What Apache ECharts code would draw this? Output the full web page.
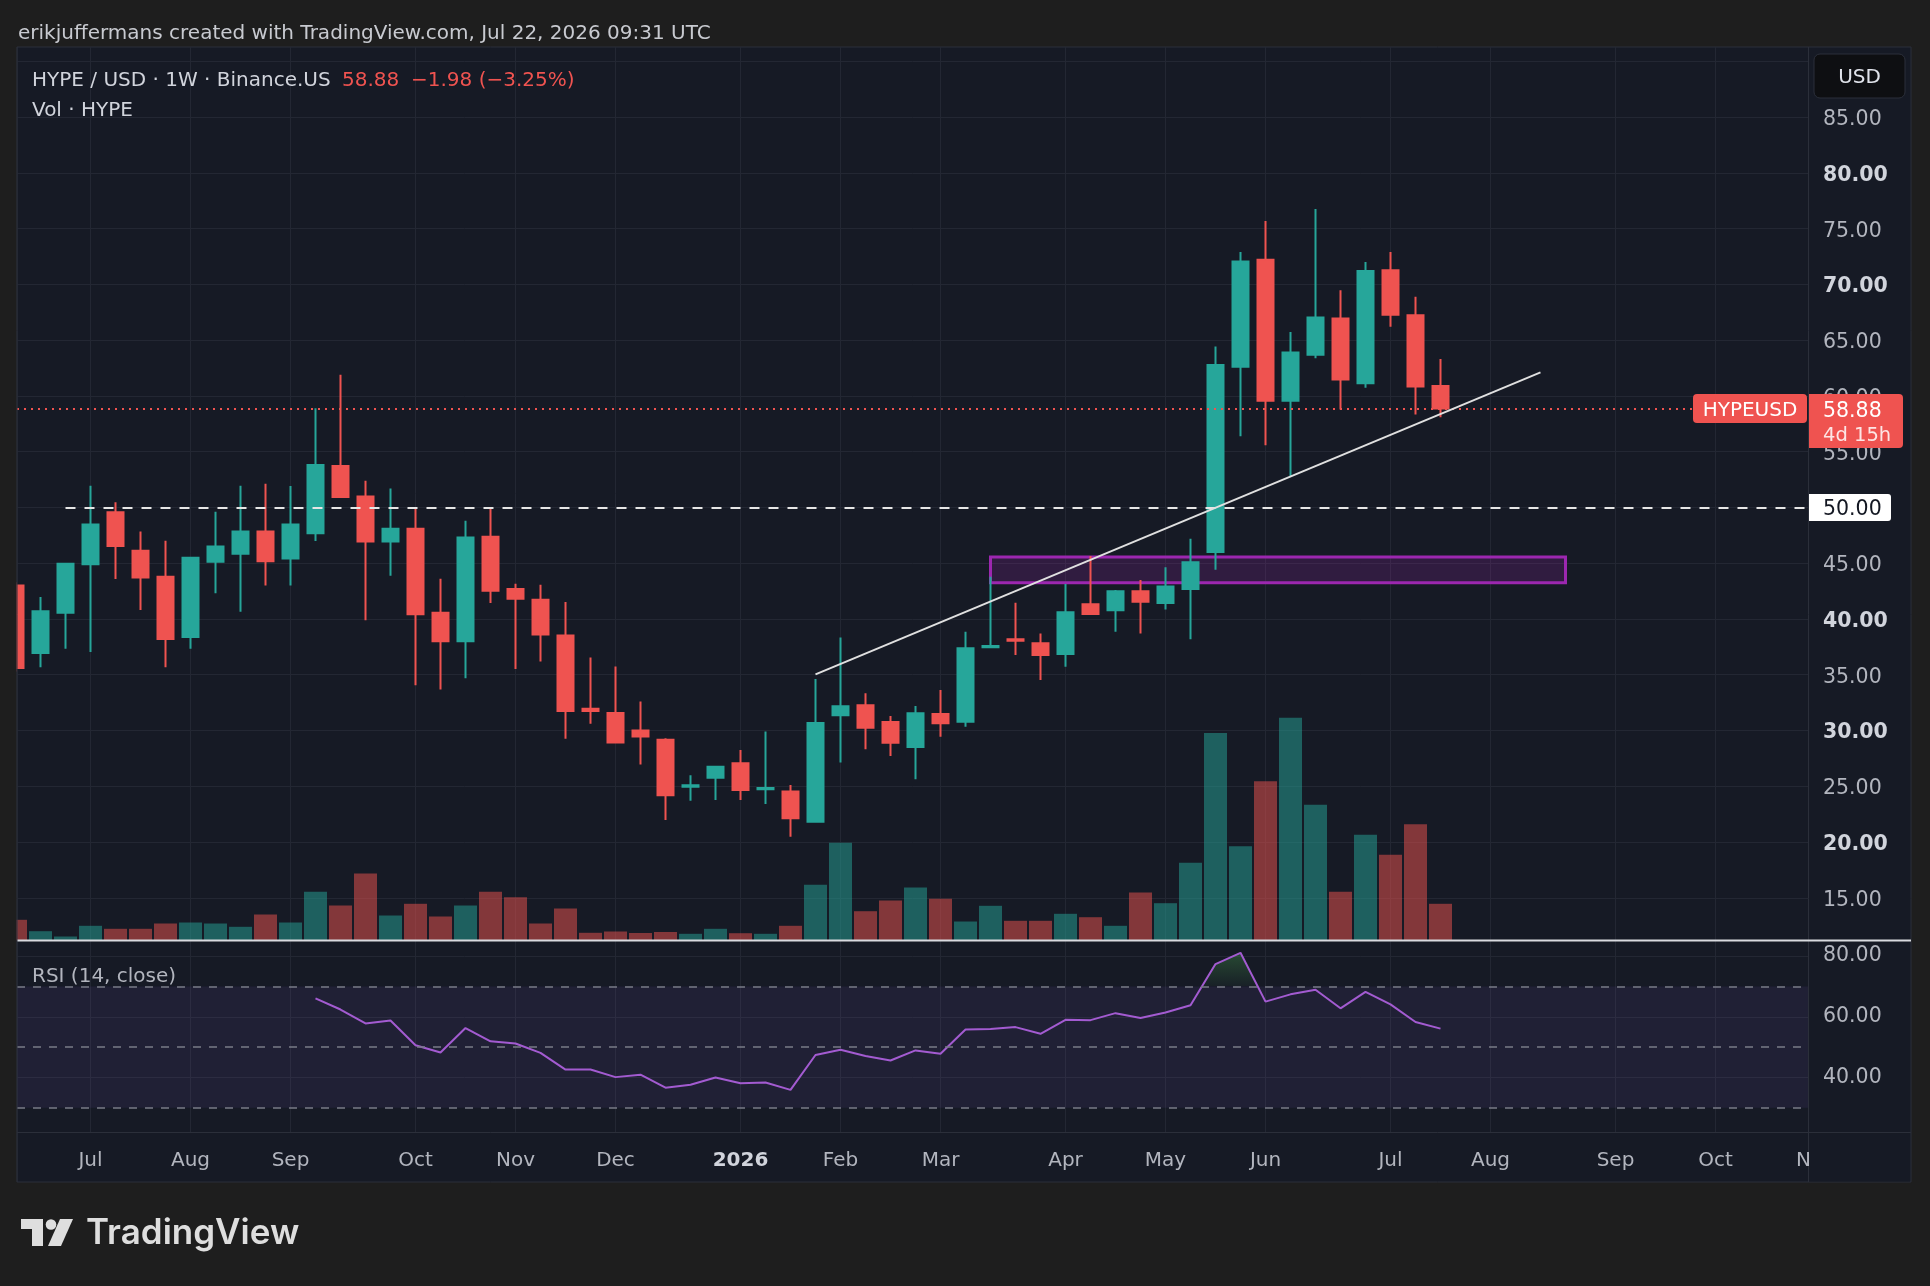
<!DOCTYPE html>
<html>
<head>
<meta charset="utf-8">
<title>HYPE / USD 1W</title>
<script src="https://cdn.jsdelivr.net/npm/echarts@6/dist/echarts.min.js"></script>
<style>
  html, body { margin: 0; padding: 0; background: #1e1e1e; }
  #chart { width: 1930px; height: 1286px; }
</style>
</head>
<body>
<div id="chart"></div>
<script>
// weekly bars (week start dates)
const weeks = [
  '2025-06-16', '2025-06-23', '2025-06-30', '2025-07-07', '2025-07-14', '2025-07-21', '2025-07-28',
  '2025-08-04', '2025-08-11', '2025-08-18', '2025-08-25', '2025-09-01', '2025-09-08', '2025-09-15',
  '2025-09-22', '2025-09-29', '2025-10-06', '2025-10-13', '2025-10-20', '2025-10-27', '2025-11-03',
  '2025-11-10', '2025-11-17', '2025-11-24', '2025-12-01', '2025-12-08', '2025-12-15', '2025-12-22',
  '2025-12-29', '2026-01-05', '2026-01-12', '2026-01-19', '2026-01-26', '2026-02-02', '2026-02-09',
  '2026-02-16', '2026-02-23', '2026-03-02', '2026-03-09', '2026-03-16', '2026-03-23', '2026-03-30',
  '2026-04-06', '2026-04-13', '2026-04-20', '2026-04-27', '2026-05-04', '2026-05-11', '2026-05-18',
  '2026-05-25', '2026-06-01', '2026-06-08', '2026-06-15', '2026-06-22', '2026-06-29', '2026-07-06',
  '2026-07-13', '2026-07-20'
];

const open = [
  43.0, 36.96, 40.57, 44.9, 49.58, 46.12, 43.79, 38.39, 45.13, 45.85,
  47.85, 45.43, 47.68, 53.72, 50.99, 46.96, 48.09, 40.57, 38.0, 47.37,
  42.69, 41.73, 38.51, 31.94, 31.56, 29.99, 29.17, 24.95, 25.77, 27.06,
  24.72, 24.54, 21.82, 31.36, 32.26, 30.76, 28.52, 31.48, 30.79, 37.46,
  38.18, 37.82, 36.86, 41.32, 40.78, 42.48, 41.43, 42.7, 46.0, 62.62,
  72.23, 59.57, 63.69, 66.95, 61.15, 71.27, 67.25, 60.9
];
const high = [
  43.3, 41.97, 45.0, 51.94, 50.48, 47.85, 47.01, 45.58, 49.61, 51.94,
  52.12, 51.93, 58.89, 61.91, 52.41, 51.7, 49.88, 43.61, 48.81, 50.0,
  43.16, 43.07, 41.52, 36.54, 35.74, 32.6, 29.3, 25.98, 26.82, 28.25,
  29.9, 25.11, 34.62, 38.33, 33.33, 31.3, 32.2, 33.63, 38.86, 43.8,
  41.46, 38.71, 43.14, 45.65, 42.6, 43.5, 44.64, 47.2, 64.44, 72.92,
  75.7, 65.74, 76.76, 69.49, 72.02, 72.92, 68.9, 63.31
];
const low = [
  35.3, 35.67, 37.34, 37.04, 43.58, 40.81, 35.67, 37.34, 42.3, 40.66,
  43.01, 43.01, 47.0, 50.9, 39.88, 43.88, 34.06, 33.67, 34.69, 41.43,
  35.52, 36.18, 29.25, 30.6, 28.85, 26.96, 21.97, 23.71, 23.77, 23.77,
  23.41, 20.48, 21.78, 27.12, 28.31, 27.71, 25.62, 29.45, 30.34, 37.4,
  36.77, 34.53, 35.72, 40.4, 38.86, 38.71, 40.86, 38.19, 44.42, 56.38,
  55.59, 52.77, 63.38, 58.78, 60.73, 66.22, 58.33, 58.09
];
const close = [
  35.6, 40.69, 44.96, 48.48, 46.54, 43.73, 38.21, 45.49, 46.51, 47.85,
  45.19, 48.48, 53.81, 50.94, 46.96, 48.09, 40.42, 38.0, 47.31, 42.54,
  41.82, 38.6, 31.76, 31.76, 28.93, 29.47, 24.2, 25.08, 26.76, 24.66,
  24.84, 22.12, 30.67, 32.17, 30.25, 28.91, 31.54, 30.64, 37.37, 37.58,
  38.06, 36.77, 40.6, 40.45, 42.48, 41.55, 42.92, 45.1, 62.79, 72.06,
  59.57, 63.89, 67.05, 61.49, 71.2, 67.29, 60.86, 58.88
];
// relative volume (no scale shown on the chart)
const volume = [
  20.7, 9.3, 4.0, 14.7, 11.7, 11.7, 17.0, 18.0, 17.0, 13.7,
  26.0, 18.0, 48.7, 35.0, 67.0, 25.0, 36.7, 24.0, 35.0, 48.7,
  43.3, 17.0, 32.0, 7.7, 9.0, 7.5, 8.5, 6.7, 11.7, 7.3,
  6.7, 14.7, 55.7, 97.7, 29.3, 40.0, 53.0, 41.7, 19.0, 34.7,
  19.7, 19.7, 26.7, 23.3, 14.7, 48.0, 37.3, 77.7, 207.5, 94.3,
  159.3, 222.7, 135.7, 48.7, 105.7, 85.7, 116.3, 36.7
];
// RSI(14) starts at bar 12
const rsiStart = 12;
const rsi = [
  66.1, 62.4, 57.8, 58.8, 50.6, 48.2, 56.3, 51.9, 51.2, 48.1,
  42.6, 42.6, 40.1, 40.9, 36.6, 37.6, 40.0, 38.1, 38.3, 35.9,
  47.4, 49.1, 47.1, 45.6, 48.9, 47.8, 55.8, 56.0, 56.6, 54.4,
  59.0, 58.9, 61.2, 59.6, 61.4, 63.8, 77.4, 81.1, 65.0, 67.4,
  68.9, 62.8, 68.2, 64.1, 58.3, 56.1
];

// time axis: bar index of first week of each month
const monthIdx = [3, 7, 11, 16, 20, 24, 29, 33, 37, 42, 46, 50, 55, 59, 64, 68];
const monthLabels = ['Jul', 'Aug', 'Sep', 'Oct', 'Nov', 'Dec', '2026', 'Feb', 'Mar', 'Apr', 'May', 'Jun', 'Jul', 'Aug', 'Sep', 'Oct'];
const priceGrid = [15, 20, 25, 30, 35, 40, 45, 50, 55, 60, 65, 70, 75, 80, 85, 90];
const priceLabels = [15, 20, 25, 30, 35, 40, 45, 50, 55, 60, 65, 70, 75, 80, 85];
const priceBold = [20, 30, 40, 70, 80];
const rsiTicks = [40, 60, 80];

// drawings
const lastPrice = 58.88;
const levelLine = { from: 2, price: 50 };
const trendLine = [[32, 35.03], [61, 62.12]];
const zoneBox = [[39, 45.56], [62, 43.26]];

const X_MIN = 0.06, X_MAX = 71.7;
const UP = '#26a69a', DOWN = '#ef5350';
const OUTER = '#1e1e1e', BG = '#161a25', GRID = '#232733', BORDER = '#2b2f3a';
const TXT = '#b2b5be';
const FONT = '"DejaVu Sans", sans-serif';
const FS = 20, AXIS_FS = 20.5;

const candleData = weeks.map((w, i) => [i, open[i], close[i], low[i], high[i]]);
const volData = weeks.map((w, i) => ({
  value: [i, volume[i]],
  itemStyle: { color: close[i] >= open[i] ? 'rgba(38,166,154,0.5)' : 'rgba(239,83,80,0.5)' }
}));
const rsiData = rsi.map((v, j) => [rsiStart + j, v]);

const monthName = {};
monthIdx.forEach((k, i) => { monthName[k] = monthLabels[i]; });

const chart = echarts.init(document.getElementById('chart'));

function txt(x, y, text, opt) {
  return {
    type: 'text', z: 100,
    style: Object.assign({ x: x, y: y, text: text, fill: '#d1d4dc', fontSize: FS, fontFamily: FONT, verticalAlign: 'middle' }, opt || {})
  };
}

const option = {
  animation: false,
  backgroundColor: OUTER,
  grid: [
    { left: 17, right: 122, top: 47, height: 893.5 },
    { left: 17, right: 122, top: 941, height: 191 }
  ],
  xAxis: [
    {
      type: 'value', gridIndex: 0, min: X_MIN, max: X_MAX,
      axisLine: { show: false },
      axisTick: { show: false, customValues: monthIdx },
      axisLabel: { show: false, customValues: monthIdx },
      splitLine: { show: true, lineStyle: { color: GRID, width: 1 } }
    },
    {
      type: 'value', gridIndex: 1, min: X_MIN, max: X_MAX,
      axisLine: { show: false },
      axisTick: { show: false, customValues: monthIdx },
      axisLabel: {
        customValues: monthIdx, margin: 18.5, color: TXT, fontSize: FS, fontFamily: FONT,
        formatter: v => {
          const s = monthName[Math.round(v)] || '';
          return s === '2026' ? '{b|' + s + '}' : s;
        },
        rich: { b: { fontWeight: 'bold', color: '#d1d4dc', fontSize: FS, fontFamily: FONT } }
      },
      splitLine: { show: true, lineStyle: { color: GRID, width: 1 } }
    }
  ],
  yAxis: [
    {
      type: 'value', gridIndex: 0, position: 'right', min: 11.166, max: 91.3,
      axisLine: { show: false },
      axisTick: { show: false, customValues: priceGrid },
      axisLabel: {
        customValues: priceLabels, margin: 15, color: TXT, fontSize: AXIS_FS, fontFamily: FONT,
        padding: [5, 0, 0, 0],
        formatter: v => (priceBold.indexOf(Math.round(v)) >= 0 ? '{b|' + v.toFixed(2) + '}' : v.toFixed(2)),
        rich: { b: { fontWeight: 'bold', color: '#d1d4dc', fontSize: AXIS_FS, fontFamily: FONT } }
      },
      splitLine: { show: true, lineStyle: { color: GRID, width: 1 } }
    },
    { type: 'value', gridIndex: 0, min: 0, max: 893.5, show: false },
    {
      type: 'value', gridIndex: 1, position: 'right', min: 22, max: 85,
      axisLine: { show: false },
      axisTick: { show: false, customValues: rsiTicks },
      axisLabel: {
        customValues: rsiTicks, margin: 15, color: TXT, fontSize: AXIS_FS, fontFamily: FONT,
        padding: [5, 0, 0, 0],
        formatter: v => v.toFixed(2)
      },
      splitLine: { show: true, lineStyle: { color: GRID, width: 1 } }
    }
  ],
  series: [
    {
      name: 'Vol', type: 'bar', xAxisIndex: 0, yAxisIndex: 1, z: 1,
      barWidth: 23, data: volData
    },
    {
      name: 'HYPEUSD', type: 'candlestick', xAxisIndex: 0, yAxisIndex: 0, z: 3,
      encode: { x: 0, y: [1, 2, 3, 4] },
      barWidth: 17,
      data: candleData,
      itemStyle: { color: UP, color0: DOWN, borderColor: UP, borderColor0: DOWN, borderWidth: 2 },
      markArea: {
        silent: true,
        itemStyle: { color: 'rgba(156,39,176,0.2)', borderColor: '#9c27b0', borderWidth: 3 },
        data: [[{ coord: zoneBox[0] }, { coord: zoneBox[1] }]]
      },
      markLine: {
        silent: true, symbol: ['none', 'none'], label: { show: false },
        data: [
          { yAxis: lastPrice, lineStyle: { color: DOWN, type: [2, 5], width: 2 } },
          [
            { coord: [levelLine.from, levelLine.price], lineStyle: { color: '#e6e6e6', type: [10, 9], width: 2 } },
            { coord: [X_MAX, levelLine.price] }
          ],
          [
            { coord: trendLine[0], lineStyle: { color: '#e0e0e0', type: 'solid', width: 2 } },
            { coord: trendLine[1] }
          ]
        ]
      }
    },
    {
      name: 'RSI', type: 'line', xAxisIndex: 1, yAxisIndex: 2, z: 4,
      data: rsiData, symbol: 'none',
      lineStyle: { color: '#a35bd1', width: 2 },
      markArea: {
        silent: true,
        itemStyle: { color: 'rgba(126,87,194,0.1)' },
        data: [[{ yAxis: 30 }, { yAxis: 70 }]]
      },
      markLine: {
        silent: true, symbol: ['none', 'none'], label: { show: false },
        lineStyle: { color: '#787b86', type: [8, 8], width: 1.5 },
        data: [{ yAxis: 70 }, { yAxis: 50 }, { yAxis: 30 }]
      }
    },
    {
      name: 'RSI overbought', type: 'line', xAxisIndex: 1, yAxisIndex: 2, z: 3,
      data: rsiData, symbol: 'none',
      lineStyle: { width: 0, opacity: 0 },
      areaStyle: { origin: 'start', color: 'rgba(0,0,0,0)' }
    }
  ],
  graphic: {
    elements: [
      { type: 'rect', z: -10, shape: { x: 17, y: 47, width: 1894, height: 1135 }, style: { fill: BG, stroke: BORDER, lineWidth: 1 } },
      // mask the half bar left of the pane edge
      { type: 'rect', z: 50, shape: { x: 0, y: 44, width: 16.5, height: 1142 }, style: { fill: OUTER } },
      { type: 'line', z: 51, shape: { x1: 17, y1: 47, x2: 17, y2: 1182 }, style: { stroke: BORDER, lineWidth: 1 } },
      { type: 'line', z: 10, shape: { x1: 1808.5, y1: 47, x2: 1808.5, y2: 1182 }, style: { stroke: BORDER, lineWidth: 1 } },
      { type: 'line', z: 10, shape: { x1: 17, y1: 1132.5, x2: 1911, y2: 1132.5 }, style: { stroke: BORDER, lineWidth: 1 } },
      { type: 'line', z: 10, shape: { x1: 17, y1: 940.5, x2: 1911, y2: 940.5 }, style: { stroke: '#d9dbe0', lineWidth: 2 } },

      txt(18, 33.5, 'erikjuffermans created with TradingView.com, Jul 22, 2026 09:31 UTC', { fill: '#c8cad0' }),
      txt(32, 80.5, 'HYPE / USD · 1W · Binance.US'),
      txt(342, 80.5, '58.88', { fill: DOWN }),
      txt(411, 80.5, '−1.98 (−3.25%)', { fill: DOWN }),
      txt(32, 110.5, 'Vol · HYPE'),
      txt(32, 976.5, 'RSI (14, close)', { fill: TXT }),

      // clipped next-month label under the price scale
      txt(1815.5, 1160.5, 'Nov', { fill: TXT, align: 'center' }),
      { type: 'rect', z: 101, shape: { x: 1809, y: 1133.5, width: 101, height: 48 }, style: { fill: BG } },

      // USD box
      { type: 'rect', z: 100, shape: { x: 1814, y: 54, width: 91, height: 44, r: 6 }, style: { fill: '#0e0f12', stroke: BORDER, lineWidth: 1 } },
      txt(1859.5, 78, 'USD', { align: 'center', fill: '#e0e3eb' }),

      // last price labels
      { type: 'rect', z: 100, shape: { x: 1693, y: 394, width: 114, height: 29, r: 4 }, style: { fill: DOWN } },
      txt(1750, 411, 'HYPEUSD', { align: 'center', fill: '#ffffff' }),
      { type: 'rect', z: 100, shape: { x: 1809, y: 394, width: 94, height: 54, r: [0, 4, 4, 0] }, style: { fill: DOWN } },
      txt(1823, 412, '58.88', { fill: '#ffffff', fontSize: AXIS_FS }),
      txt(1823, 436, '4d 15h', { fill: 'rgba(255,255,255,0.85)', fontSize: 19.5 }),

      // level label
      { type: 'rect', z: 100, shape: { x: 1809, y: 494, width: 82, height: 27, r: [0, 3, 3, 0] }, style: { fill: '#ffffff' } },
      txt(1823, 510, '50.00', { fill: '#131722', fontSize: AXIS_FS }),

      // TradingView logo
      { type: 'polygon', z: 100, shape: { points: [[21, 1219], [43, 1219], [43, 1246], [32, 1246], [32, 1229], [21, 1229]] }, style: { fill: '#dedede' } },
      { type: 'circle', z: 100, shape: { cx: 51, cy: 1224.5, r: 5.3 }, style: { fill: '#dedede' } },
      { type: 'polygon', z: 100, shape: { points: [[60, 1219], [73, 1219], [61, 1246], [48, 1246]] }, style: { fill: '#dedede' } },
      txt(86, 1233, 'TradingView', { fill: '#dedede', fontSize: 35, fontWeight: 600, fontFamily: 'Inter, sans-serif' })
    ]
  }
};

chart.setOption(option);

// overbought fill: green only above the 70 level
const yTop = chart.convertToPixel({ gridIndex: 1 }, [X_MIN, 85])[1];
const y70 = chart.convertToPixel({ gridIndex: 1 }, [X_MIN, 70])[1];
chart.setOption({
  series: [{}, {}, {}, {
    areaStyle: {
      origin: 'start',
      color: new echarts.graphic.LinearGradient(0, yTop, 0, y70, [
        { offset: 0, color: 'rgba(76,175,80,0.6)' },
        { offset: 0.999, color: 'rgba(76,175,80,0.06)' },
        { offset: 1, color: 'rgba(76,175,80,0)' }
      ], true)
    }
  }]
});

window.addEventListener('resize', () => chart.resize());
</script>
</body>
</html>
